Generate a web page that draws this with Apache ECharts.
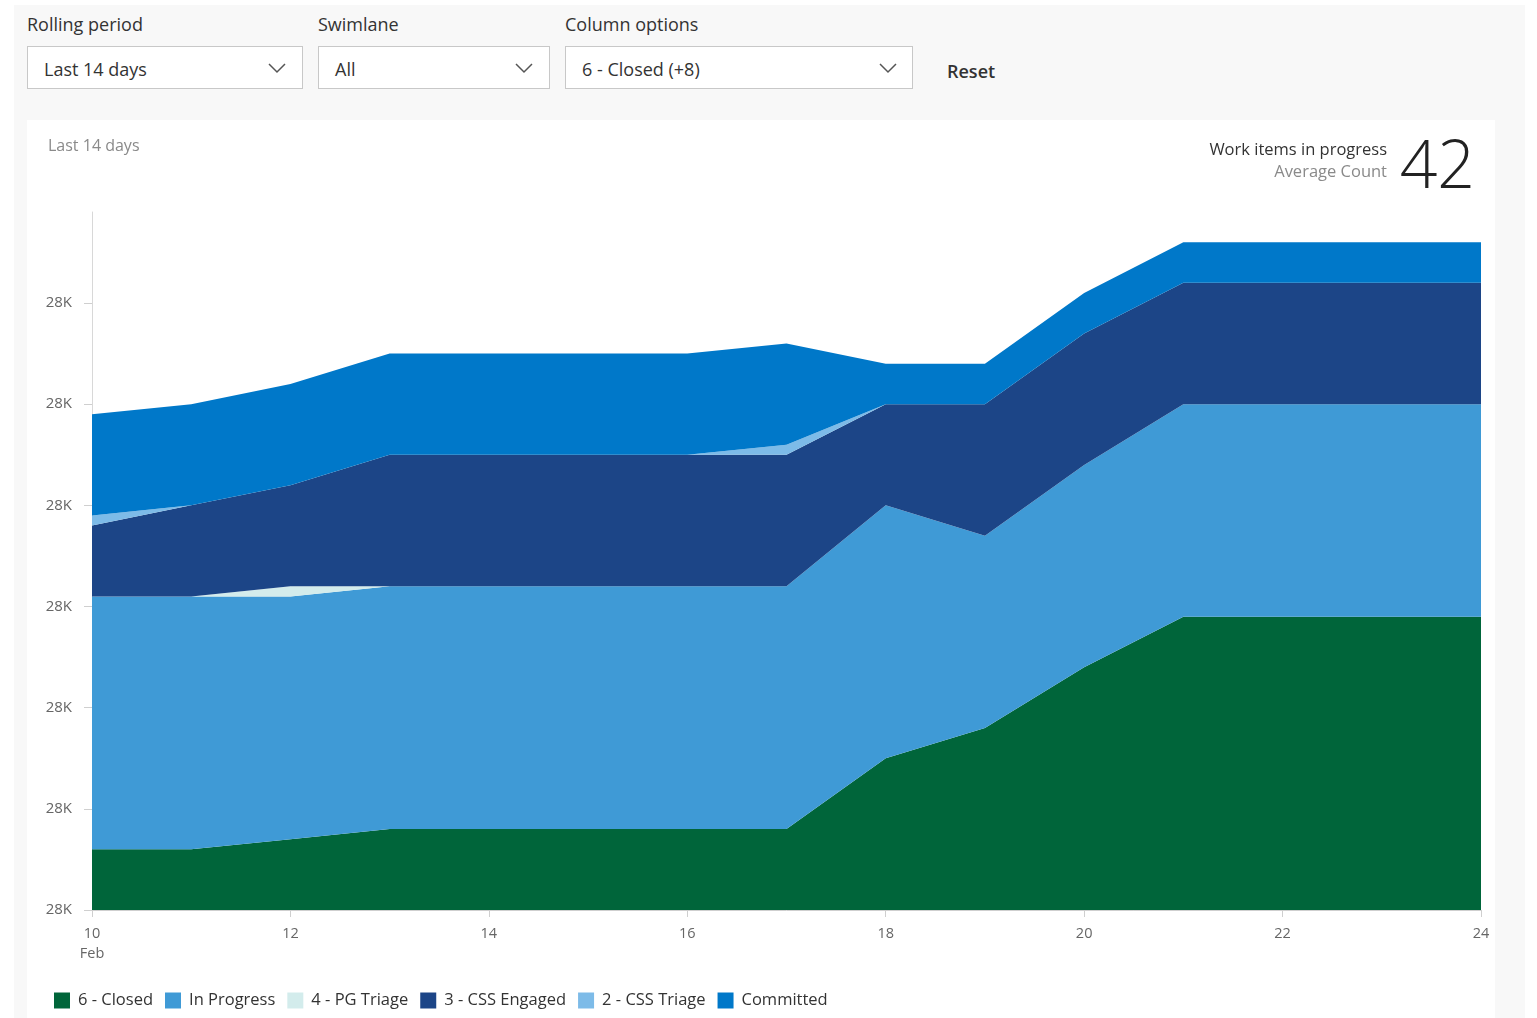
<!DOCTYPE html>
<html>
<head>
<meta charset="utf-8">
<script src="https://cdn.jsdelivr.net/npm/echarts@6/dist/echarts.min.js"></script>
<style>
  html, body { margin: 0; padding: 0; background: #ffffff; width: 1537px; height: 1018px; overflow: hidden; font-family: "Segoe UI", "Open Sans", "Noto Sans", sans-serif; }
  #panel { position: absolute; left: 14px; top: 5px; width: 1511px; height: 1013px; background: #f8f8f8; }
  #card { position: absolute; left: 27px; top: 120px; width: 1468px; height: 898px; background: #ffffff; }
  .lbl { position: absolute; top: 12px; font-size: 18px; color: #333; }
  .dd { position: absolute; top: 46px; height: 41px; background: #fff; border: 1px solid #c8c8c8; box-sizing: content-box; }
  .dd span { position: absolute; left: 16px; top: 10px; font-size: 18px; color: #333; }
  .dd svg { position: absolute; top: 15px; }
  #reset { position: absolute; left: 947px; top: 59px; font-size: 18px; font-weight: 600; color: #333; }
  #chart { position: absolute; left: 0; top: 0; width: 1537px; height: 1018px; }
</style>
</head>
<body>
<div id="panel"></div>
<div id="card"></div>
<div class="lbl" style="left:27px">Rolling period</div>
<div class="lbl" style="left:318px">Swimlane</div>
<div class="lbl" style="left:565px">Column options</div>
<div class="dd" style="left:27px;width:274px"><span>Last 14 days</span><svg style="left:240px" width="18" height="12"><polyline points="1,2 9,10 17,2" fill="none" stroke="#555" stroke-width="1.5"/></svg></div>
<div class="dd" style="left:318px;width:230px"><span>All</span><svg style="left:196px" width="18" height="12"><polyline points="1,2 9,10 17,2" fill="none" stroke="#555" stroke-width="1.5"/></svg></div>
<div class="dd" style="left:565px;width:346px"><span>6 - Closed (+8)</span><svg style="left:313px" width="18" height="12"><polyline points="1,2 9,10 17,2" fill="none" stroke="#555" stroke-width="1.5"/></svg></div>
<div id="reset">Reset</div>
<div id="chart"></div>
<script>
const days = ['10','11','12','13','14','15','16','17','18','19','20','21','22','23','24'];
const closed      = [28006,28006,28007,28008,28008,28008,28008,28008,28015,28018,28024,28029,28029,28029,28029];
const inProgress  = [25,25,24,24,24,24,24,24,25,19,20,21,21,21,21];
const pgTriage    = [0,0,1,0,0,0,0,0,0,0,0,0,0,0,0];
const cssEngaged  = [7,9,10,13,13,13,13,13,10,13,13,12,12,12,12];
const cssTriage   = [1,0,0,0,0,0,0,1,0,0,0,0,0,0,0];
const committed   = [10,10,10,10,10,10,10,10,4,4,4,4,4,4,4];
const yTicks = { min: 28000, max: 28069, interval: 10 };
const kpiValue = '42';

const seriesDefs = [
  ['6 - Closed', closed, '#00653a'],
  ['In Progress', inProgress, '#3f9ad6'],
  ['4 - PG Triage', pgTriage, '#d3ecec'],
  ['3 - CSS Engaged', cssEngaged, '#1c4587'],
  ['2 - CSS Triage', cssTriage, '#7dbbe8'],
  ['Committed', committed, '#0078c9']
];

const font = '"Segoe UI", "Open Sans", "Noto Sans", sans-serif';
const chart = echarts.init(document.getElementById('chart'));
chart.setOption({
  animation: false,
  textStyle: { fontFamily: font },
  title: [
    { text: 'Last 14 days', left: 43, top: 133, textStyle: { fontSize: 16, fontWeight: 'normal', color: '#8a8a8a', fontFamily: font } }
  ],
  graphic: [
    { type: 'text', right: 150, top: 142, style: { text: 'Work items in progress', fontSize: 16.5, fill: '#333', fontFamily: font, textAlign: 'right' } },
    { type: 'text', right: 150, top: 164, style: { text: 'Average Count', fontSize: 16.5, fill: '#8a8a8a', fontFamily: font, textAlign: 'right' } },
    { type: 'text', right: 62, top: 136, style: { text: kpiValue, fontSize: 66, fontWeight: 200, fill: '#222', fontFamily: font } }
  ],
  legend: {
    left: 54, top: 992, padding: 0, itemWidth: 16, itemHeight: 16, itemGap: 12, icon: 'rect',
    textStyle: { fontSize: 16.5, color: '#333', fontFamily: font, padding: [0, 0, 0, 3] },
    data: seriesDefs.map(s => s[0])
  },
  grid: { left: 92, right: 56, top: 212, bottom: 108 },
  xAxis: {
    type: 'category', data: days, boundaryGap: false,
    axisLine: { lineStyle: { color: '#cfcfcf' } },
    axisTick: { show: true, interval: 1, length: 7, lineStyle: { color: '#cfcfcf' } },
    axisLabel: { interval: 1, margin: 14, fontSize: 14.5, color: '#666', lineHeight: 20,
      formatter: (v, i) => i === 0 ? v + '\nFeb' : v },
    splitLine: { show: false }
  },
  yAxis: {
    type: 'value', min: yTicks.min, max: yTicks.max, interval: yTicks.interval,
    axisLine: { show: true, lineStyle: { color: '#d8d8d8' } },
    axisTick: { show: true, length: 8, lineStyle: { color: '#cfcfcf' } },
    axisLabel: { margin: 20, fontSize: 15, color: '#666', showMaxLabel: false,
      formatter: v => Math.round(v / 1000) + 'K' },
    splitLine: { show: false }
  },
  series: seriesDefs.map(([name, data, color]) => ({
    name, type: 'line', stack: 'cfd', data, symbol: 'none', silent: true,
    itemStyle: { color }, lineStyle: { width: 0, color }, areaStyle: { color, opacity: 1 }
  }))
});
</script>
</body>
</html>
